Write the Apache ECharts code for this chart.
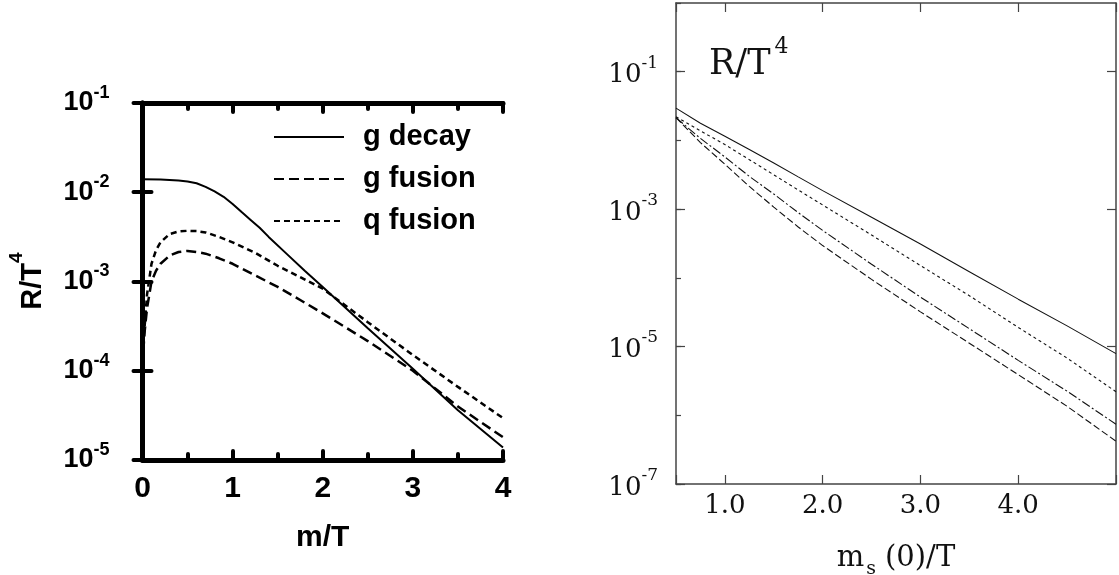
<!DOCTYPE html>
<html>
<head>
<meta charset="utf-8">
<script src="https://cdn.jsdelivr.net/npm/echarts@6/dist/echarts.min.js"></script>
<style>
html,body{margin:0;padding:0;background:#fff;}
#chart{width:1119px;height:575px;}
</style>
</head>
<body>
<div id="chart"></div>
<script>
// ---------- Left panel data (m/T vs R/T^4) ----------
const gDecayX = [0, 0.2, 0.3, 0.4, 0.5, 0.6, 0.7, 0.8, 0.9, 1.0, 1.1, 1.2, 1.3, 1.4, 1.6, 1.8, 2.0, 2.5, 3.0, 3.5, 4.0];
const gDecayY = [1.40e-2, 1.39e-2, 1.37e-2, 1.35e-2, 1.32e-2, 1.26e-2, 1.15e-2, 1.02e-2, 8.9e-3, 7.4e-3, 6.0e-3, 4.9e-3, 4.0e-3, 3.16e-3, 2.04e-3, 1.32e-3, 8.7e-4, 3.0e-4, 1.05e-4, 3.6e-5, 1.38e-5];
const fusionX = [0, 0.02, 0.05, 0.1, 0.15, 0.2, 0.3, 0.4, 0.5, 0.6, 0.7, 0.85, 1.0, 1.25, 1.5, 1.75, 2.0, 2.5, 3.0, 3.5, 4.0];
const gFusionY = [1.12e-4, 2.5e-4, 5.0e-4, 1.0e-3, 1.32e-3, 1.58e-3, 1.95e-3, 2.14e-3, 2.2e-3, 2.14e-3, 2.05e-3, 1.82e-3, 1.58e-3, 1.17e-3, 8.7e-4, 6.2e-4, 4.4e-4, 2.15e-4, 1.0e-4, 3.98e-5, 1.8e-5];
const qFusionY = [1.12e-4, 2.8e-4, 7.1e-4, 1.58e-3, 2.24e-3, 2.75e-3, 3.4e-3, 3.63e-3, 3.7e-3, 3.67e-3, 3.55e-3, 3.16e-3, 2.75e-3, 2.1e-3, 1.5e-3, 1.12e-3, 8.3e-4, 3.5e-4, 1.5e-4, 6.6e-5, 2.95e-5];
const leftNames = ['g decay', 'g fusion', 'q fusion'];

// ---------- Right panel data (m_s(0)/T vs R/T^4) ----------
const rightX = [0.5, 0.75, 1.0, 1.25, 1.5, 1.75, 2.0, 2.5, 3.0, 3.5, 4.0, 4.5, 5.0];
const rSolidY = [2.95e-2, 1.78e-2, 1.15e-2, 7.4e-3, 4.7e-3, 2.95e-3, 1.86e-3, 7.6e-4, 3.1e-4, 1.23e-4, 4.9e-5, 2.0e-5, 7.9e-6];
const rDottedY = [2.21e-2, 1.38e-2, 8.7e-3, 5.25e-3, 3.16e-3, 1.9e-3, 1.15e-3, 4.2e-4, 1.51e-4, 5.5e-5, 1.9e-5, 6.8e-6, 2.2e-6];
const rDashDotY = [2.14e-2, 1.07e-2, 5.75e-3, 3.0e-3, 1.66e-3, 8.9e-4, 4.9e-4, 1.58e-4, 5.25e-5, 1.82e-5, 6.3e-6, 2.24e-6, 7.4e-7];
const rDashedY = [2.14e-2, 9.3e-3, 4.5e-3, 2.14e-3, 1.07e-3, 5.5e-4, 2.95e-4, 9.5e-5, 3.2e-5, 1.12e-5, 3.9e-6, 1.35e-6, 4.2e-7];
const rightDecades = ['1e-7', '1e-6', '1e-5', '1e-4', '1e-3', '1e-2', '1e-1', '1e0'];

const SANS = 'Liberation Sans';
const SERIF = 'DejaVu Serif';
const pairs = (xs, ys) => xs.map((x, i) => [x, ys[i]]);
const expOf = v => Math.round(Math.log10(v));

const chart = echarts.init(document.getElementById('chart'), null, {renderer: 'canvas'});

const leftAxisLine = {show: true, lineStyle: {color: '#000', width: 5}};
const leftTick = {show: true, inside: true, length: 9, lineStyle: {color: '#000', width: 4, cap: 'round'}};
const leftMinor = {show: true, splitNumber: 2, length: 6, lineStyle: {color: '#000', width: 4, cap: 'round'}};
const rightAxisLine = {show: true, lineStyle: {color: '#444', width: 1.5}};
const rightTick = {show: true, inside: true, length: 9, lineStyle: {color: '#444', width: 1.2}};

const option = {
  animation: false,
  backgroundColor: '#fff',
  grid: [
    {left: 142.5, top: 103, width: 360.5, height: 357},
    {left: 676, top: 3, width: 450, height: 481}
  ],
  legend: {
    data: leftNames,
    orient: 'vertical',
    left: 268, top: 117,
    itemWidth: 70, itemHeight: 14, itemGap: 12,
    itemStyle: {opacity: 0},
    textStyle: {fontFamily: SANS, fontWeight: 'bold', fontSize: 29, color: '#000', padding: [0, 0, 0, 14], lineHeight: 30},
    selectedMode: false
  },
  xAxis: [
    {gridIndex: 0, type: 'value', min: 0, max: 4, interval: 1, position: 'bottom',
     axisLine: leftAxisLine, axisTick: leftTick, minorTick: leftMinor, splitLine: {show: false},
     axisLabel: {margin: 14, fontFamily: SANS, fontWeight: 'bold', fontSize: 30, color: '#000'}},
    {gridIndex: 0, type: 'value', min: 0, max: 4, interval: 1, position: 'top',
     axisLine: leftAxisLine, axisTick: leftTick, minorTick: leftMinor, splitLine: {show: false},
     axisLabel: {show: false}},
    {gridIndex: 1, type: 'value', min: 0.5, max: 5, position: 'bottom',
     axisLine: rightAxisLine, axisTick: rightTick, splitLine: {show: false},
     axisLabel: {margin: 9, fontFamily: SERIF, fontSize: 26, color: '#111',
       formatter: v => (Math.abs(v - Math.round(v)) < 1e-9 && v < 4.5) ? v.toFixed(1) : ''}},
    {gridIndex: 1, type: 'value', min: 0.5, max: 5, position: 'top',
     axisLine: rightAxisLine, axisTick: rightTick, splitLine: {show: false}, axisLabel: {show: false}}
  ],
  yAxis: [
    {gridIndex: 0, type: 'log', logBase: 10, min: 1e-5, max: 1e-1, position: 'left',
     axisLine: leftAxisLine, axisTick: leftTick, splitLine: {show: false}, minorTick: {show: false},
     axisLabel: {margin: 33, color: '#000',
       formatter: v => '{b|10}{s|' + expOf(v) + '}',
       rich: {
         b: {fontFamily: SANS, fontWeight: 'bold', fontSize: 27, lineHeight: 38, verticalAlign: 'middle', color: '#000'},
         s: {fontFamily: SANS, fontWeight: 'bold', fontSize: 18, lineHeight: 18, verticalAlign: 'top', color: '#000'}
       }}},
    {gridIndex: 0, type: 'log', logBase: 10, min: 1e-5, max: 1e-1, position: 'right',
     axisLine: leftAxisLine, axisTick: leftTick, splitLine: {show: false}, axisLabel: {show: false}},
    {gridIndex: 1, type: 'log', logBase: 10, min: 1e-7, max: 1, position: 'left',
     axisLine: rightAxisLine, axisTick: {show: true, inside: true, length: 5, lineStyle: {color: '#444', width: 1.2}},
     splitLine: {show: false},
     axisLabel: {margin: 18, color: '#111',
       formatter: v => { const e = expOf(v); return (e % 2 !== 0) ? '{b|10}{s|' + e + '}' : ''; },
       rich: {
         b: {fontFamily: SERIF, fontSize: 26, lineHeight: 34, verticalAlign: 'bottom', color: '#111'},
         s: {fontFamily: SERIF, fontSize: 17, lineHeight: 17, verticalAlign: 'top', color: '#111'}
       }}},
    {gridIndex: 1, type: 'category', data: rightDecades, boundaryGap: false, position: 'left',
     axisLine: {show: false}, axisLabel: {show: false}, splitLine: {show: false},
     axisTick: {show: true, inside: true, length: 9, interval: (i) => i % 2 === 0, lineStyle: {color: '#444', width: 1.2}}},
    {gridIndex: 1, type: 'category', data: rightDecades, boundaryGap: false, position: 'right',
     axisLine: rightAxisLine, axisLabel: {show: false}, splitLine: {show: false},
     axisTick: {show: true, inside: true, length: 9, interval: (i) => i % 2 === 0, lineStyle: {color: '#444', width: 1.2}}}
  ],
  graphic: [
    {type: 'text', x: 27, y: 281, rotation: Math.PI / 2,
     style: {text: '{b|R/T}{s|4}', align: 'center', verticalAlign: 'middle',
       rich: {
         b: {fontFamily: SANS, fontWeight: 'bold', fontSize: 29, lineHeight: 40, verticalAlign: 'bottom', fill: '#000'},
         s: {fontFamily: SANS, fontWeight: 'bold', fontSize: 19, lineHeight: 19, verticalAlign: 'top', fill: '#000'}
       }}},
    {type: 'text', x: 322.7, y: 538,
     style: {text: 'm/T', align: 'center', verticalAlign: 'middle', fontFamily: SANS, fontWeight: 'bold', fontSize: 30, fill: '#000'}},
    {type: 'text', x: 709, y: 59,
     style: {text: '{b|R/T}{s|4}', align: 'left', verticalAlign: 'middle',
       rich: {
         b: {fontFamily: SERIF, fontSize: 35, lineHeight: 46, verticalAlign: 'bottom', fill: '#111'},
         s: {fontFamily: SERIF, fontSize: 22, lineHeight: 22, verticalAlign: 'top', fill: '#111', padding: [0, 0, 0, 4]}
       }}},
    {type: 'text', x: 896, y: 544,
     style: {text: '{b|m}{u|s}{b|(0)/T}', align: 'center', verticalAlign: 'top',
       rich: {
         b: {fontFamily: SERIF, fontSize: 29, lineHeight: 32, verticalAlign: 'top', fill: '#111'},
         u: {fontFamily: SERIF, fontSize: 19, lineHeight: 35, verticalAlign: 'bottom', fill: '#111', padding: [0, 9, 0, 2]}
       }}}
  ],
  series: [
    {name: leftNames[0], type: 'line', xAxisIndex: 0, yAxisIndex: 0, data: pairs(gDecayX, gDecayY),
     symbol: 'none', smooth: false, lineStyle: {color: '#000', width: 2, type: 'solid'}, itemStyle: {color: '#000'}},
    {name: leftNames[1], type: 'line', xAxisIndex: 0, yAxisIndex: 0, data: pairs(fusionX, gFusionY),
     symbol: 'none', smooth: false, lineStyle: {color: '#000', width: 2.5, type: [10, 5]}, itemStyle: {color: '#000'}},
    {name: leftNames[2], type: 'line', xAxisIndex: 0, yAxisIndex: 0, data: pairs(fusionX, qFusionY),
     symbol: 'none', smooth: false, lineStyle: {color: '#000', width: 2.5, type: [6, 4]}, itemStyle: {color: '#000'}},
    {name: 'r1', type: 'line', xAxisIndex: 2, yAxisIndex: 2, data: pairs(rightX, rSolidY),
     symbol: 'none', lineStyle: {color: '#111', width: 1.1, type: 'solid'}},
    {name: 'r2', type: 'line', xAxisIndex: 2, yAxisIndex: 2, data: pairs(rightX, rDottedY),
     symbol: 'none', lineStyle: {color: '#111', width: 1.1, type: [3, 3]}},
    {name: 'r3', type: 'line', xAxisIndex: 2, yAxisIndex: 2, data: pairs(rightX, rDashDotY),
     symbol: 'none', lineStyle: {color: '#111', width: 1.1, type: [9, 2.5, 2, 2.5]}},
    {name: 'r4', type: 'line', xAxisIndex: 2, yAxisIndex: 2, data: pairs(rightX, rDashedY),
     symbol: 'none', lineStyle: {color: '#111', width: 1.1, type: [7, 3]}}
  ]
};
chart.setOption(option);
</script>
</body>
</html>
